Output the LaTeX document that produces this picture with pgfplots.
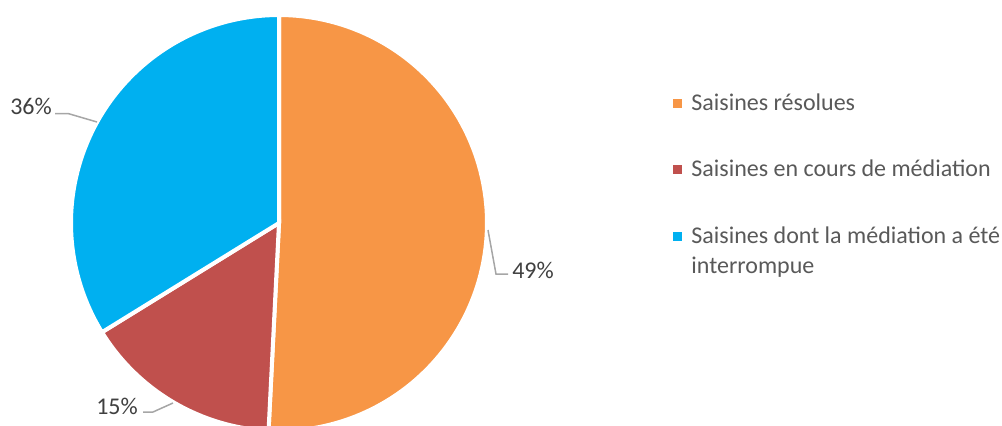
\documentclass[border=0pt]{standalone}
\usepackage{pgfplots}
\pgfplotsset{compat=1.18}
\usepackage{fontspec}
\setmainfont{Carlito}

\definecolor{cOrange}{HTML}{F79646}
\definecolor{cRed}{HTML}{C0504D}
\definecolor{cBlue}{HTML}{00B0F0}
\definecolor{cText}{HTML}{595959}
\definecolor{cLab}{HTML}{404040}
\definecolor{cLead}{HTML}{A6A6A6}

\pgfplotsset{
  sq legend/.style={legend image code/.code={\fill[##1, draw=none] (0pt,-2.25pt) rectangle (4.5pt,2.25pt);}},
  sq legend up/.style={legend image code/.code={\fill[##1, draw=none] (0pt,5.25pt) rectangle (4.5pt,9.75pt);}},
}

% slice sizes in percent (as drawn), clockwise from the top
\def\vA{50.8}
\def\vB{15.4}
\def\vC{33.8}
\pgfmathsetmacro\aA{90-3.6*\vA}
\pgfmathsetmacro\aB{\aA-3.6*\vB}
\pgfmathsetmacro\aC{\aB-3.6*\vC}

\begin{document}
\begin{tikzpicture}
\begin{axis}[
  scale only axis,
  width=501pt, height=212.5pt,
  xmin=0, xmax=1002, ymin=0, ymax=425,
  hide axis,
  font=\fontsize{12}{15}\selectfont,
  sq legend,
  legend cell align=left,
  legend style={draw=none, fill=none, at={(axis cs:673,332)}, anchor=north west,
    text=cText, row sep=23.5pt, column sep=4.5pt, inner sep=0pt,
    nodes={inner sep=0pt}},
]
\addplot[fill=cOrange, draw=white, line width=2pt, domain=\aA:90, samples=120]
  ({279+208*cos(x)},{202+208*sin(x)}) -- (axis cs:279,202) -- cycle;
\addlegendentry{Saisines résolues}
\addplot[fill=cRed, draw=white, line width=2pt, domain=\aB:\aA, samples=60]
  ({279+208*cos(x)},{202+208*sin(x)}) -- (axis cs:279,202) -- cycle;
\addlegendentry{Saisines en cours de médiation}
\addplot[fill=cBlue, draw=white, line width=2pt, domain=\aC:\aB, samples=100, sq legend up]
  ({279+208*cos(x)},{202+208*sin(x)}) -- (axis cs:279,202) -- cycle;
\addlegendentry[align=left]{Saisines dont la médiation a été\\interrompue}

% leader lines
\addplot[forget plot, cLead, line width=0.75pt, no marks] coordinates {(55,311.5) (68,311.5) (97,303)};
\addplot[forget plot, cLead, line width=0.75pt, no marks] coordinates {(488,195) (496,151) (508,151)};
\addplot[forget plot, cLead, line width=0.75pt, no marks] coordinates {(143,13) (153,13) (173,22)};

\node[text=cLab] at (axis cs:31,319) {36\%};
\node[text=cLab] at (axis cs:533,155) {49\%};
\node[text=cLab] at (axis cs:117,19) {15\%};
\end{axis}
\pgfresetboundingbox
\path (current axis.south west) rectangle (current axis.north east);
\end{tikzpicture}
\end{document}
